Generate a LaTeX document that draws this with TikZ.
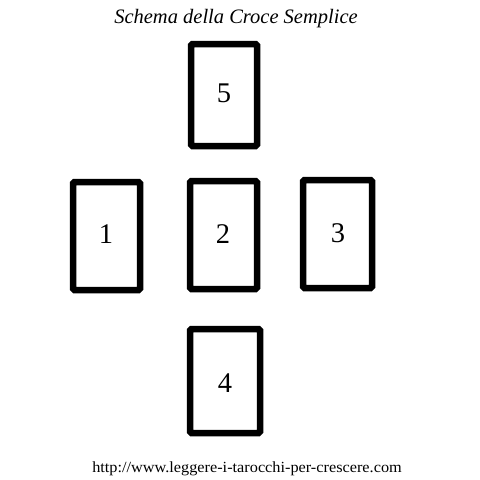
\documentclass[tikz,border=0pt]{standalone}
\usepackage{fontspec}
\setmainfont{Liberation Serif}
\newfontfamily\urlfont[FakeStretch=1.05]{Liberation Serif}
\begin{document}
\begin{tikzpicture}[x=1pt,y=-1pt,
  card/.style={draw=black,line width=6.5pt,rounded corners=1.5pt},
  num/.style={font=\fontsize{28.5}{30}\selectfont,inner sep=0pt},
]
\useasboundingbox (0,0) rectangle (480,480);
\fill[white] (0,0) rectangle (480,480);
% title
\node[anchor=base,inner sep=0pt,font=\fontsize{20.5}{22}\selectfont\itshape] (title) at (236,23) {Schema della Croce Semplice};
% cards
\draw[card] (191,44) rectangle (257,146);
\draw[card] (73,182) rectangle (140,290);
\draw[card] (190,181) rectangle (257,289);
\draw[card] (303,180) rectangle (372,288);
\draw[card] (190,329) rectangle (260,433);
\node[num] (n5) at (224,93) {5};
\node[num] (n1) at (106,234) {1};
\node[num] (n2) at (223,234) {2};
\node[num] (n3) at (338,233) {3};
\node[num] (n4) at (225,383) {4};
% url
\node[anchor=base,inner sep=0pt,font=\urlfont\fontsize{15.5}{17}\selectfont] (url) at (247,472) {http://www.leggere-i-tarocchi-per-crescere.com};
\end{tikzpicture}
\end{document}
